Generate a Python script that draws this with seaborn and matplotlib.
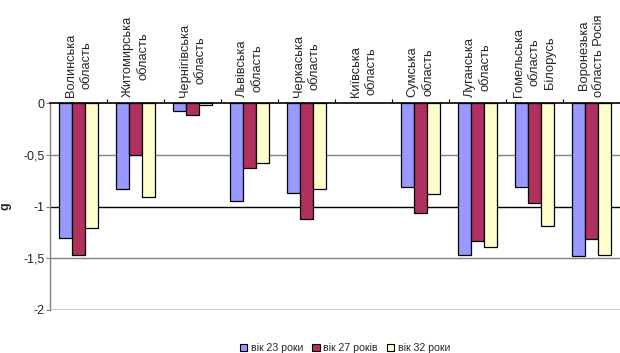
import numpy as np
import pandas as pd
import matplotlib
matplotlib.use("Agg")
import matplotlib.pyplot as plt
import seaborn as sns
from matplotlib.patches import Patch

# Regions (category labels as drawn above the bars)
regions = [
    "Волинська\nобласть",
    "Житомирська\nобласть",
    "Чернігівська\nобласть",
    "Львівська\nобласть",
    "Черкаська\nобласть",
    "Київська\nобласть",
    "Сумська\nобласть",
    "Луганська\nобласть",
    "Гомельська\nобласть\nБілорусь",
    "Воронезька\nобласть Росія",
]

age_groups = ["вік 23 роки", "вік 27 років", "вік 32 роки"]

# g values per age group (no data for Київська область)
age_23 = [-1.30, -0.83, -0.08, -0.95, -0.87, np.nan, -0.81, -1.47, -0.81, -1.48]
age_27 = [-1.47, -0.50, -0.12, -0.63, -1.12, np.nan, -1.06, -1.33, -0.97, -1.31]
age_32 = [-1.21, -0.91, -0.02, -0.58, -0.83, np.nan, -0.88, -1.39, -1.19, -1.47]

y_ticks = [0, -0.5, -1, -1.5, -2]
y_tick_labels = ["0", "-0,5", "-1", "-1,5", "-2"]

colors = ["#9999FF", "#B03060", "#FFFFCC"]

df = pd.DataFrame({
    "region": regions * 3,
    "age": np.repeat(age_groups, len(regions)),
    "g": age_23 + age_27 + age_32,
})

sns.set_style("white")
plt.rcParams["font.family"] = ["Liberation Sans", "DejaVu Sans"]

fig = plt.figure(figsize=(6.2, 3.53), dpi=100)
ax = fig.add_axes([50 / 620, 1 - 310 / 353, 570 / 620, 207 / 353])

sns.barplot(
    data=df, x="region", y="g", hue="age", order=regions, hue_order=age_groups,
    palette=colors, width=0.68, edgecolor="black", linewidth=0.9,
    saturation=1, legend=False, ax=ax, zorder=2,
)

ax.set_ylim(-2, 0)
ax.set_xlim(-0.5, len(regions) - 0.5)

# Horizontal gridlines
for yv, c in [(-0.5, "#808080"), (-1, "black"), (-1.5, "#808080"), (-2, "black")]:
    ax.axhline(yv, color=c, linewidth=1.0, zorder=0)

ax.set_yticks(y_ticks)
ax.set_yticklabels(y_tick_labels, fontsize=9)
ax.tick_params(axis="y", direction="out", length=3, width=0.8, color="#808080", pad=1, left=True)

# Category separators as short ticks pointing up from the zero line
ax.xaxis.set_ticks_position("top")
ax.set_xticks(np.arange(0.5, len(regions) - 1, 1.0))
ax.set_xticklabels([])
ax.tick_params(axis="x", direction="out", length=3, width=0.8, color="black", top=True, bottom=False)
ax.set_xlabel("")

for side in ["right", "bottom"]:
    ax.spines[side].set_visible(False)
ax.spines["top"].set_color("black")
ax.spines["top"].set_linewidth(1.2)
ax.spines["left"].set_color("#808080")
ax.spines["left"].set_linewidth(1.0)

ax.set_ylabel("g", fontsize=9, fontweight="bold")
ax.yaxis.set_label_coords(-38 / 570, 0.5)

# Rotated region names above the plot
trans = matplotlib.transforms.blended_transform_factory(ax.transData, ax.transAxes)
for i, name in enumerate(regions):
    ax.text(i, 1 + 6 / 207, name, transform=trans, rotation=90, ha="center", va="bottom",
            multialignment="center", fontsize=9.3, linespacing=1.38)

handles = [Patch(facecolor=c, edgecolor="black", linewidth=0.8) for c in colors]
fig.legend(handles, age_groups, loc="center", bbox_to_anchor=(345 / 620, 1 - 348 / 353),
           ncol=3, frameon=False, fontsize=7.6, handlelength=0.7, handleheight=0.7,
           handletextpad=0.3, columnspacing=0.9, borderpad=0)

fig.savefig("out.png", dpi=100)
